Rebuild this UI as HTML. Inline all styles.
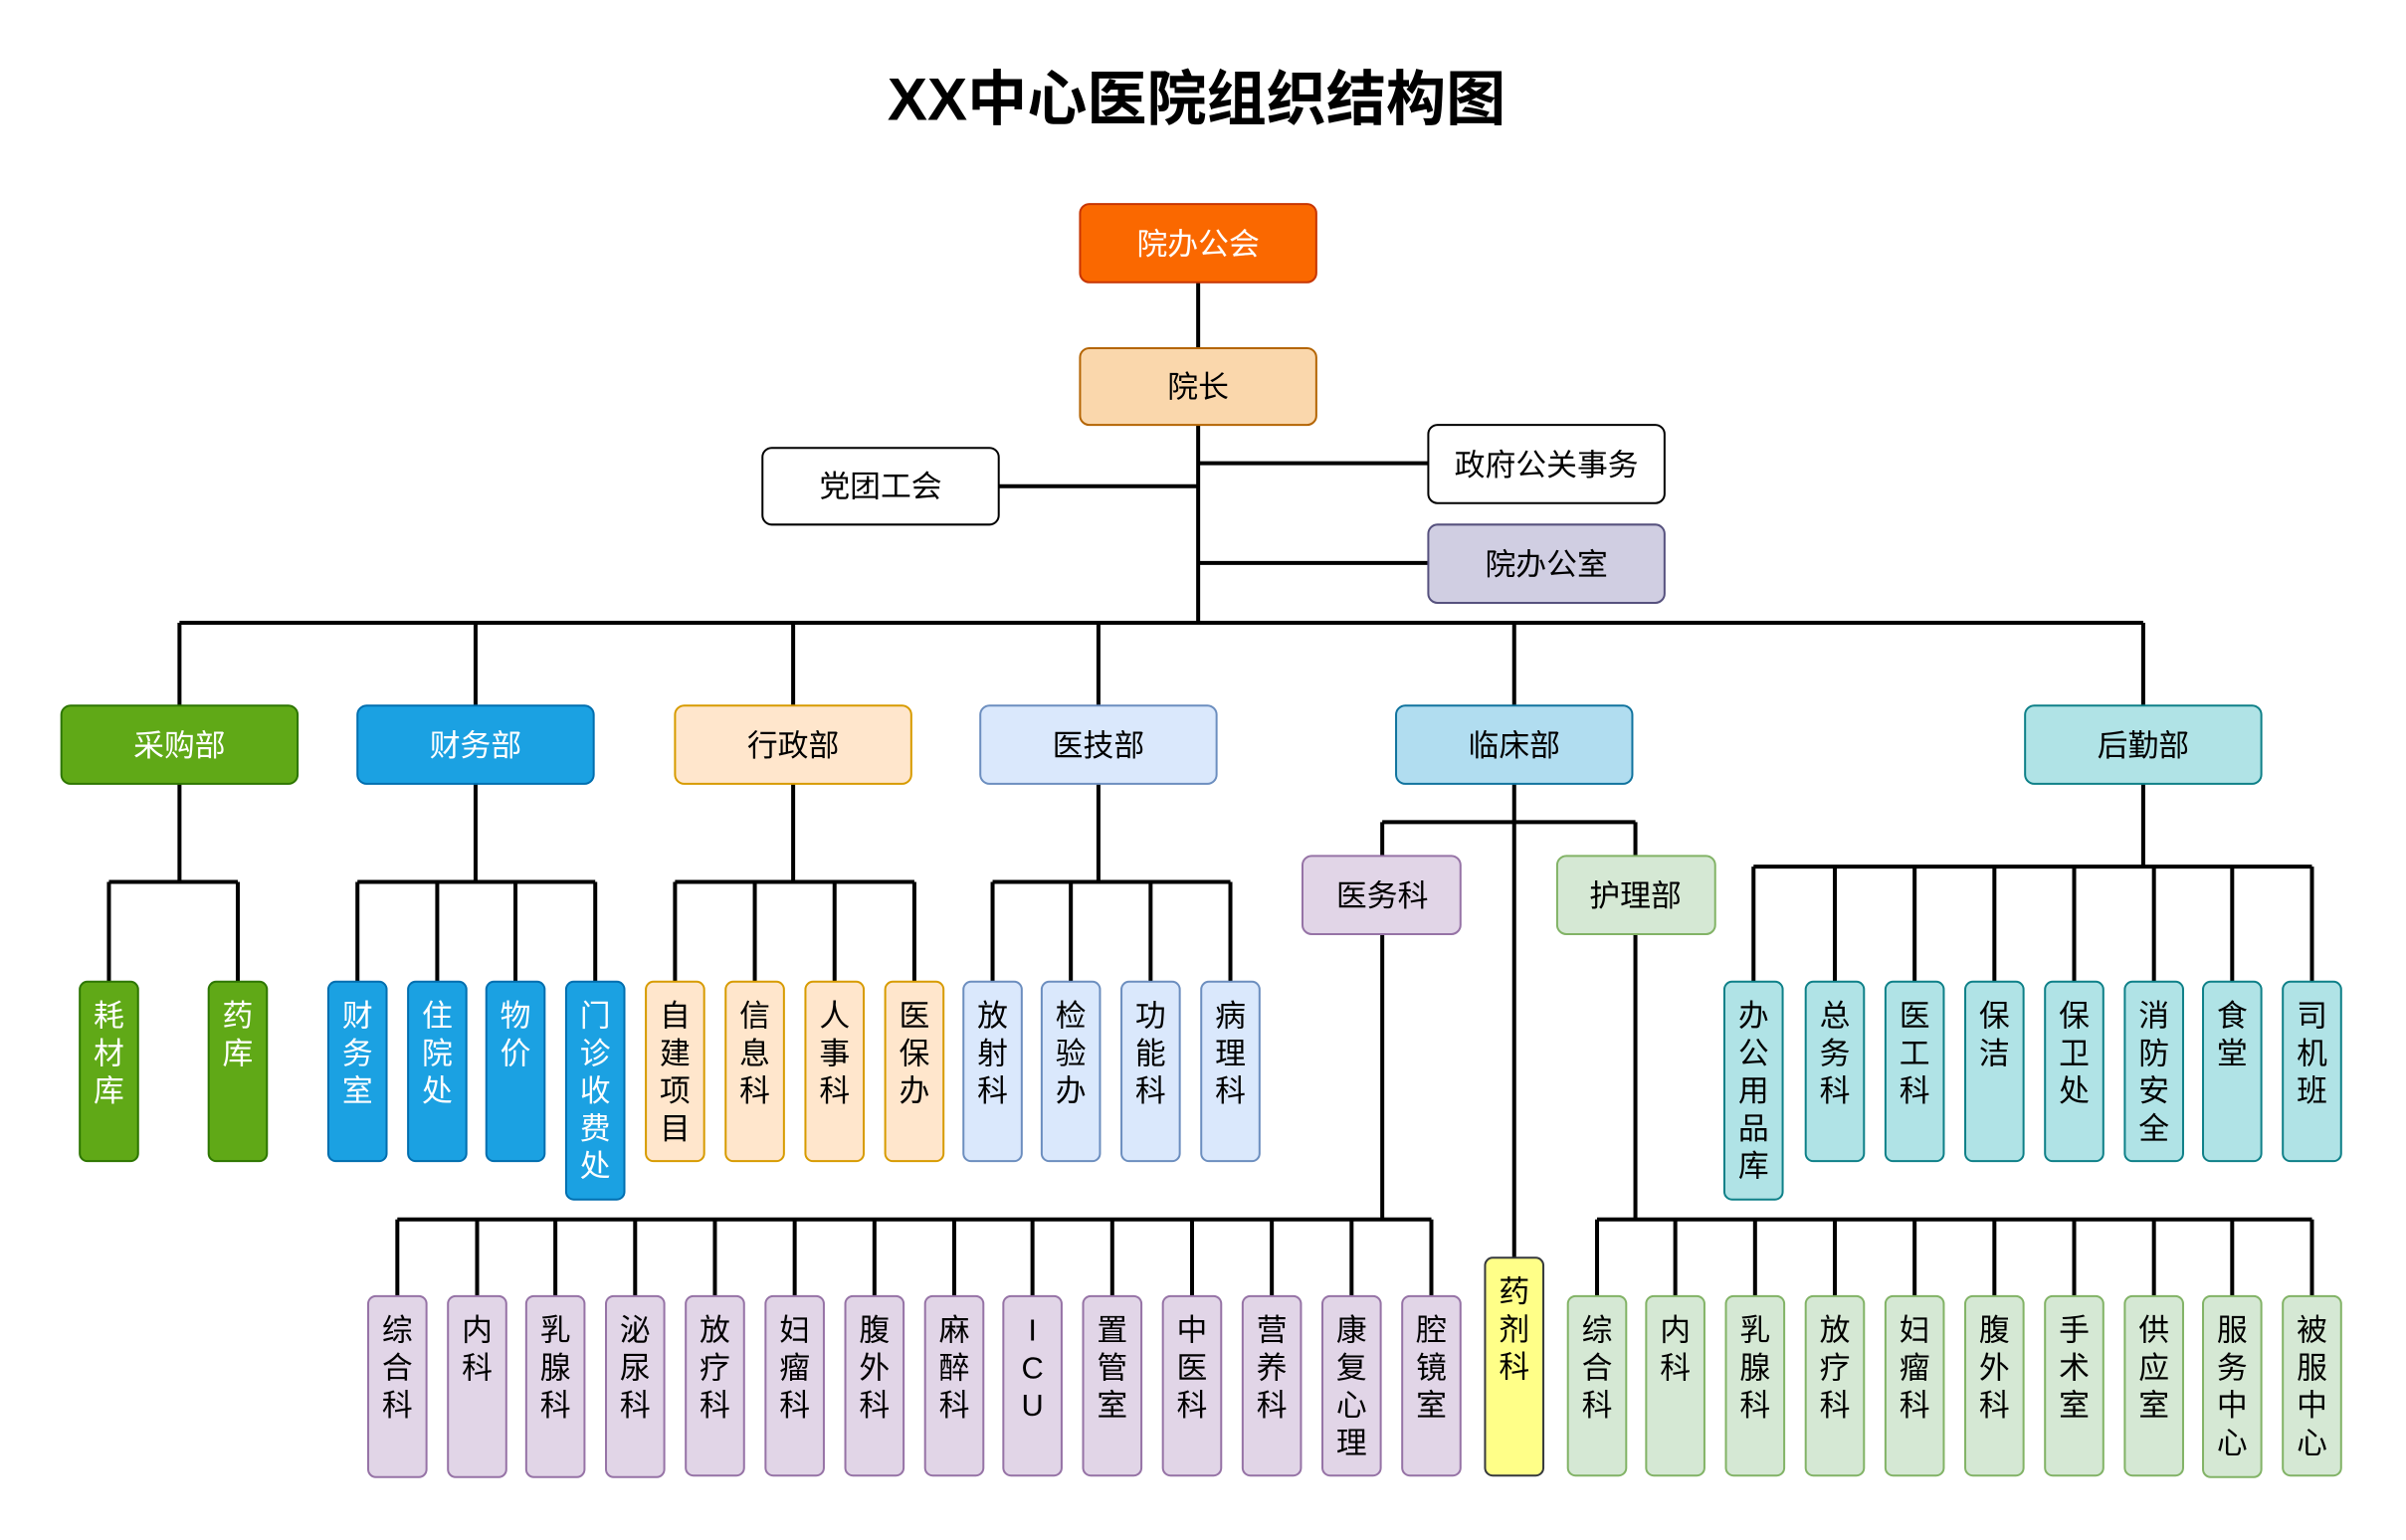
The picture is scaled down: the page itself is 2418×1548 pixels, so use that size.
<!DOCTYPE html>
<html><head><meta charset="utf-8"><style>
html,body{margin:0;padding:0;background:#fff;}
svg{display:block;}
text{font-family:"Liberation Sans","Noto Sans CJK SC",sans-serif;}
</style></head><body>
<svg width="2418" height="1548" viewBox="0 0 1568.3 1004" xmlns="http://www.w3.org/2000/svg">
<text x="780" y="78" text-anchor="middle" font-size="39" font-weight="bold" fill="#000">XX中心医院组织结构图</text>

<g stroke="#000" stroke-width="2.6" fill="none">
<path d="M781 184V227M781 277V406M651 317H781M781 302H931M781 367H931"/>
<path d="M117 406H1397M117 406V460M310 406V460M517 406V460M716 406V460M987 406V460M1397 406V460"/>
<path d="M117 511V575M71 575H155M71 575V640M155 575V640"/>
<path d="M310 511V575M233 575H388M233 575V640M285 575V640M336 575V640M388 575V640"/>
<path d="M517 511V575M440 575H596M440 575V640M492 575V640M544 575V640M596 575V640"/>
<path d="M716 511V575M647 575H802M647 575V640M698 575V640M750 575V640M802 575V640"/>
<path d="M987 511V820M901 536H1066M901 536V558M1066 536V558"/>
<path d="M1397 511V565M1143 565H1507M1143 565V640M1196 565V640M1248 565V640M1300 565V640M1352 565V640M1404 565V640M1455 565V640M1507 565V640"/>
<path d="M901 609V795M259 795H933M259 795V845M311 795V845M362 795V845M414 795V845M466 795V845M518 795V845M570 795V845M622 795V845M673 795V845M725 795V845M777 795V845M829 795V845M881 795V845M933 795V845"/>
<path d="M1066 609V795M1041 795H1507M1041 795V845M1092 795V845M1144 795V845M1196 795V845M1248 795V845M1300 795V845M1352 795V845M1404 795V845M1455 795V845M1507 795V845"/>
</g>

<g font-size="20" text-anchor="middle">
<rect x="704" y="133" width="154" height="51" rx="6" fill="#fa6800" stroke="#c73500" stroke-width="1.3"/><text x="781" y="166" fill="#fff">院办公会</text>
<rect x="704" y="227" width="154" height="50" rx="6" fill="#fad7ac" stroke="#b46504" stroke-width="1.3"/><text x="781" y="259">院长</text>
<rect x="497" y="292" width="154" height="50" rx="6" fill="#fff" stroke="#000" stroke-width="1.3"/><text x="574" y="324">党团工会</text>
<rect x="931" y="277" width="154" height="51" rx="6" fill="#fff" stroke="#000" stroke-width="1.3"/><text x="1008" y="310">政府公关事务</text>
<rect x="931" y="342" width="154" height="51" rx="6" fill="#d0cee2" stroke="#56517e" stroke-width="1.3"/><text x="1008" y="375">院办公室</text>

<rect x="40" y="460" width="154" height="51" rx="6" fill="#60a917" stroke="#2d7600" stroke-width="1.3"/><text x="117" y="493" fill="#fff">采购部</text>
<rect x="233" y="460" width="154" height="51" rx="6" fill="#1ba1e2" stroke="#006eaf" stroke-width="1.3"/><text x="310" y="493" fill="#fff">财务部</text>
<rect x="440" y="460" width="154" height="51" rx="6" fill="#ffe6cc" stroke="#d79b00" stroke-width="1.3"/><text x="517" y="493">行政部</text>
<rect x="639" y="460" width="154" height="51" rx="6" fill="#dae8fc" stroke="#6c8ebf" stroke-width="1.3"/><text x="716" y="493">医技部</text>
<rect x="910" y="460" width="154" height="51" rx="6" fill="#b1ddf0" stroke="#10739e" stroke-width="1.3"/><text x="987" y="493">临床部</text>
<rect x="1320" y="460" width="154" height="51" rx="6" fill="#b0e3e6" stroke="#0e8088" stroke-width="1.3"/><text x="1397" y="493">后勤部</text>

<rect x="849" y="558" width="103" height="51" rx="6" fill="#e1d5e7" stroke="#9673a6" stroke-width="1.3"/><text x="901" y="591">医务科</text>
<rect x="1015" y="558" width="103" height="51" rx="6" fill="#d5e8d4" stroke="#82b366" stroke-width="1.3"/><text x="1066" y="591">护理部</text>
</g>

<g font-size="20" text-anchor="middle" stroke-width="1.3">
<g fill="#60a917" stroke="#2d7600"><rect x="52" y="640" width="38" height="117" rx="5"/><rect x="136" y="640" width="38" height="117" rx="5"/></g>
<text fill="#fff"><tspan x="71" y="669">耗</tspan><tspan x="71" dy="24.5">材</tspan><tspan x="71" dy="24.5">库</tspan></text>
<text fill="#fff"><tspan x="155" y="669">药</tspan><tspan x="155" dy="24.5">库</tspan></text>
<g fill="#1ba1e2" stroke="#006eaf"><rect x="214" y="640" width="38" height="117" rx="5"/><rect x="266" y="640" width="38" height="117" rx="5"/><rect x="317" y="640" width="38" height="117" rx="5"/><rect x="369" y="640" width="38" height="142" rx="5"/></g>
<text fill="#fff"><tspan x="233" y="669">财</tspan><tspan x="233" dy="24.5">务</tspan><tspan x="233" dy="24.5">室</tspan></text>
<text fill="#fff"><tspan x="285" y="669">住</tspan><tspan x="285" dy="24.5">院</tspan><tspan x="285" dy="24.5">处</tspan></text>
<text fill="#fff"><tspan x="336" y="669">物</tspan><tspan x="336" dy="24.5">价</tspan></text>
<text fill="#fff"><tspan x="388" y="669">门</tspan><tspan x="388" dy="24.5">诊</tspan><tspan x="388" dy="24.5">收</tspan><tspan x="388" dy="24.5">费</tspan><tspan x="388" dy="24.5">处</tspan></text>
<g fill="#ffe6cc" stroke="#d79b00"><rect x="421" y="640" width="38" height="117" rx="5"/><rect x="473" y="640" width="38" height="117" rx="5"/><rect x="525" y="640" width="38" height="117" rx="5"/><rect x="577" y="640" width="38" height="117" rx="5"/></g>
<text><tspan x="440" y="669">自</tspan><tspan x="440" dy="24.5">建</tspan><tspan x="440" dy="24.5">项</tspan><tspan x="440" dy="24.5">目</tspan></text>
<text><tspan x="492" y="669">信</tspan><tspan x="492" dy="24.5">息</tspan><tspan x="492" dy="24.5">科</tspan></text>
<text><tspan x="544" y="669">人</tspan><tspan x="544" dy="24.5">事</tspan><tspan x="544" dy="24.5">科</tspan></text>
<text><tspan x="596" y="669">医</tspan><tspan x="596" dy="24.5">保</tspan><tspan x="596" dy="24.5">办</tspan></text>
<g fill="#dae8fc" stroke="#6c8ebf"><rect x="628" y="640" width="38" height="117" rx="5"/><rect x="679" y="640" width="38" height="117" rx="5"/><rect x="731" y="640" width="38" height="117" rx="5"/><rect x="783" y="640" width="38" height="117" rx="5"/></g>
<text><tspan x="647" y="669">放</tspan><tspan x="647" dy="24.5">射</tspan><tspan x="647" dy="24.5">科</tspan></text>
<text><tspan x="698" y="669">检</tspan><tspan x="698" dy="24.5">验</tspan><tspan x="698" dy="24.5">办</tspan></text>
<text><tspan x="750" y="669">功</tspan><tspan x="750" dy="24.5">能</tspan><tspan x="750" dy="24.5">科</tspan></text>
<text><tspan x="802" y="669">病</tspan><tspan x="802" dy="24.5">理</tspan><tspan x="802" dy="24.5">科</tspan></text>
<g fill="#b0e3e6" stroke="#0e8088"><rect x="1124" y="640" width="38" height="142" rx="5"/><rect x="1177" y="640" width="38" height="117" rx="5"/><rect x="1229" y="640" width="38" height="117" rx="5"/><rect x="1281" y="640" width="38" height="117" rx="5"/><rect x="1333" y="640" width="38" height="117" rx="5"/><rect x="1385" y="640" width="38" height="117" rx="5"/><rect x="1436" y="640" width="38" height="117" rx="5"/><rect x="1488" y="640" width="38" height="117" rx="5"/></g>
<text><tspan x="1143" y="669">办</tspan><tspan x="1143" dy="24.5">公</tspan><tspan x="1143" dy="24.5">用</tspan><tspan x="1143" dy="24.5">品</tspan><tspan x="1143" dy="24.5">库</tspan></text>
<text><tspan x="1196" y="669">总</tspan><tspan x="1196" dy="24.5">务</tspan><tspan x="1196" dy="24.5">科</tspan></text>
<text><tspan x="1248" y="669">医</tspan><tspan x="1248" dy="24.5">工</tspan><tspan x="1248" dy="24.5">科</tspan></text>
<text><tspan x="1300" y="669">保</tspan><tspan x="1300" dy="24.5">洁</tspan></text>
<text><tspan x="1352" y="669">保</tspan><tspan x="1352" dy="24.5">卫</tspan><tspan x="1352" dy="24.5">处</tspan></text>
<text><tspan x="1404" y="669">消</tspan><tspan x="1404" dy="24.5">防</tspan><tspan x="1404" dy="24.5">安</tspan><tspan x="1404" dy="24.5">全</tspan></text>
<text><tspan x="1455" y="669">食</tspan><tspan x="1455" dy="24.5">堂</tspan></text>
<text><tspan x="1507" y="669">司</tspan><tspan x="1507" dy="24.5">机</tspan><tspan x="1507" dy="24.5">班</tspan></text>

<g fill="#e1d5e7" stroke="#9673a6">
<rect x="240" y="845" width="38" height="118" rx="5"/><rect x="292" y="845" width="38" height="118" rx="5"/><rect x="343" y="845" width="38" height="118" rx="5"/><rect x="395" y="845" width="38" height="118" rx="5"/><rect x="447" y="845" width="38" height="117" rx="5"/><rect x="499" y="845" width="38" height="117" rx="5"/><rect x="551" y="845" width="38" height="117" rx="5"/><rect x="603" y="845" width="38" height="117" rx="5"/><rect x="654" y="845" width="38" height="117" rx="5"/><rect x="706" y="845" width="38" height="117" rx="5"/><rect x="758" y="845" width="38" height="117" rx="5"/><rect x="810" y="845" width="38" height="117" rx="5"/><rect x="862" y="845" width="38" height="117" rx="5"/><rect x="914" y="845" width="38" height="117" rx="5"/></g>
<text><tspan x="259" y="874">综</tspan><tspan x="259" dy="24.5">合</tspan><tspan x="259" dy="24.5">科</tspan></text>
<text><tspan x="311" y="874">内</tspan><tspan x="311" dy="24.5">科</tspan></text>
<text><tspan x="362" y="874">乳</tspan><tspan x="362" dy="24.5">腺</tspan><tspan x="362" dy="24.5">科</tspan></text>
<text><tspan x="414" y="874">泌</tspan><tspan x="414" dy="24.5">尿</tspan><tspan x="414" dy="24.5">科</tspan></text>
<text><tspan x="466" y="874">放</tspan><tspan x="466" dy="24.5">疗</tspan><tspan x="466" dy="24.5">科</tspan></text>
<text><tspan x="518" y="874">妇</tspan><tspan x="518" dy="24.5">瘤</tspan><tspan x="518" dy="24.5">科</tspan></text>
<text><tspan x="570" y="874">腹</tspan><tspan x="570" dy="24.5">外</tspan><tspan x="570" dy="24.5">科</tspan></text>
<text><tspan x="622" y="874">麻</tspan><tspan x="622" dy="24.5">醉</tspan><tspan x="622" dy="24.5">科</tspan></text>
<text><tspan x="673" y="874">I</tspan><tspan x="673" dy="24.5">C</tspan><tspan x="673" dy="24.5">U</tspan></text>
<text><tspan x="725" y="874">置</tspan><tspan x="725" dy="24.5">管</tspan><tspan x="725" dy="24.5">室</tspan></text>
<text><tspan x="777" y="874">中</tspan><tspan x="777" dy="24.5">医</tspan><tspan x="777" dy="24.5">科</tspan></text>
<text><tspan x="829" y="874">营</tspan><tspan x="829" dy="24.5">养</tspan><tspan x="829" dy="24.5">科</tspan></text>
<text><tspan x="881" y="874">康</tspan><tspan x="881" dy="24.5">复</tspan><tspan x="881" dy="24.5">心</tspan><tspan x="881" dy="24.5">理</tspan></text>
<text><tspan x="933" y="874">腔</tspan><tspan x="933" dy="24.5">镜</tspan><tspan x="933" dy="24.5">室</tspan></text>

<rect x="968" y="820" width="38" height="142" rx="5" fill="#ffff88" stroke="#36393d"/>
<text><tspan x="987" y="849">药</tspan><tspan x="987" dy="24.5">剂</tspan><tspan x="987" dy="24.5">科</tspan></text>

<g fill="#d5e8d4" stroke="#82b366">
<rect x="1022" y="845" width="38" height="117" rx="5"/><rect x="1073" y="845" width="38" height="117" rx="5"/><rect x="1125" y="845" width="38" height="117" rx="5"/><rect x="1177" y="845" width="38" height="117" rx="5"/><rect x="1229" y="845" width="38" height="117" rx="5"/><rect x="1281" y="845" width="38" height="117" rx="5"/><rect x="1333" y="845" width="38" height="117" rx="5"/><rect x="1385" y="845" width="38" height="117" rx="5"/><rect x="1436" y="845" width="38" height="118" rx="5"/><rect x="1488" y="845" width="38" height="117" rx="5"/></g>
<text><tspan x="1041" y="874">综</tspan><tspan x="1041" dy="24.5">合</tspan><tspan x="1041" dy="24.5">科</tspan></text>
<text><tspan x="1092" y="874">内</tspan><tspan x="1092" dy="24.5">科</tspan></text>
<text><tspan x="1144" y="874">乳</tspan><tspan x="1144" dy="24.5">腺</tspan><tspan x="1144" dy="24.5">科</tspan></text>
<text><tspan x="1196" y="874">放</tspan><tspan x="1196" dy="24.5">疗</tspan><tspan x="1196" dy="24.5">科</tspan></text>
<text><tspan x="1248" y="874">妇</tspan><tspan x="1248" dy="24.5">瘤</tspan><tspan x="1248" dy="24.5">科</tspan></text>
<text><tspan x="1300" y="874">腹</tspan><tspan x="1300" dy="24.5">外</tspan><tspan x="1300" dy="24.5">科</tspan></text>
<text><tspan x="1352" y="874">手</tspan><tspan x="1352" dy="24.5">术</tspan><tspan x="1352" dy="24.5">室</tspan></text>
<text><tspan x="1404" y="874">供</tspan><tspan x="1404" dy="24.5">应</tspan><tspan x="1404" dy="24.5">室</tspan></text>
<text><tspan x="1455" y="874">服</tspan><tspan x="1455" dy="24.5">务</tspan><tspan x="1455" dy="24.5">中</tspan><tspan x="1455" dy="24.5">心</tspan></text>
<text><tspan x="1507" y="874">被</tspan><tspan x="1507" dy="24.5">服</tspan><tspan x="1507" dy="24.5">中</tspan><tspan x="1507" dy="24.5">心</tspan></text>
</g>
</svg>
</body></html>
